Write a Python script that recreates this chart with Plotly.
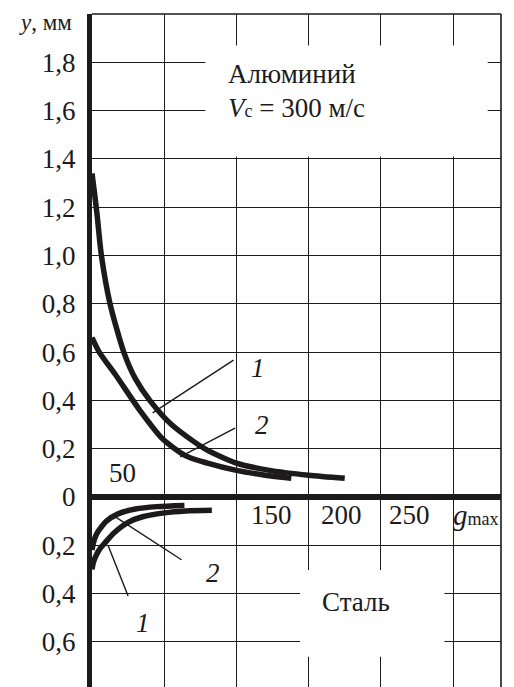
import plotly.graph_objects as go

# ---- data ----
al1_g = [0, 1.5, 3.5, 6.5, 12.5, 22, 30, 40, 55, 78, 100, 125, 150, 175]
al1_y = [1.34, 1.27, 1.17, 1.0, 0.8, 0.6, 0.49, 0.4, 0.3, 0.2, 0.14, 0.108, 0.09, 0.077]
al2_g = [0, 5, 17, 33, 49, 65, 80, 100, 120, 138]
al2_y = [0.66, 0.60, 0.50, 0.36, 0.24, 0.17, 0.14, 0.11, 0.09, 0.077]
st1_g = [0, 1, 3, 6, 9, 15, 25, 35, 50, 65, 83]
st1_y = [-0.30, -0.27, -0.24, -0.21, -0.19, -0.15, -0.105, -0.082, -0.066, -0.058, -0.055]
st2_g = [0, 1, 2, 4, 7, 10, 18, 30, 45, 64]
st2_y = [-0.22, -0.19, -0.17, -0.145, -0.12, -0.10, -0.07, -0.05, -0.04, -0.035]

y_ticks = [-0.6, -0.4, -0.2, 0, 0.2, 0.4, 0.6, 0.8, 1.0, 1.2, 1.4, 1.6, 1.8]
y_ticktext = ["0,6", "0,4", "0,2", "0", "0,2", "0,4", "0,6", "0,8", "1,0", "1,2", "1,4", "1,6", "1,8"]
x_grid = [50, 100, 150, 200, 250]
x_labels = [("50", 21, 0.10), ("150", 124, -0.075), ("200", 173, -0.075), ("250", 220, -0.075)]

# leader lines: (label, label_x, label_y, from_x, from_y, to_x, to_y)
leaders = [
    ("1", 115, 0.535, 98, 0.567, 42, 0.348),
    ("2", 118, 0.298, 99, 0.285, 61, 0.166),
    ("1", 35, -0.52, 25, -0.41, 11, -0.199),
    ("2", 84, -0.314, 62, -0.26, 14, -0.074),
]

FONT = "Liberation Serif"
INK = "#1c1a1b"
FS = 27

fig = go.Figure()
for gx, gy in [(al1_g, al1_y), (al2_g, al2_y), (st1_g, st1_y), (st2_g, st2_y)]:
    fig.add_trace(go.Scatter(x=gx, y=gy, mode="lines",
                             line=dict(color=INK, width=5.5, shape="spline", smoothing=0.7),
                             hoverinfo="skip", showlegend=False))

for lab, lx, ly, x0, y0, x1, y1 in leaders:
    fig.add_trace(go.Scatter(x=[x0, x1], y=[y0, y1], mode="lines",
                             line=dict(color=INK, width=1.4),
                             hoverinfo="skip", showlegend=False))

ann = []
for lab, lx, ly, *_ in leaders:
    ann.append(dict(x=lx, y=ly, text="<i>%s</i>" % lab, showarrow=False,
                    font=dict(family=FONT, size=FS, color=INK)))
for t, x, y in x_labels:
    ann.append(dict(x=x, y=y, text=t, showarrow=False,
                    font=dict(family=FONT, size=FS, color=INK)))
ann.append(dict(x=266, y=-0.075, text="<i>g</i><span style='font-size:18px'>max</span>",
                showarrow=False, xanchor="center",
                font=dict(family=FONT, size=FS + 2, color=INK)))
ann.append(dict(x=0, y=1.965, xref="x", yref="y", xanchor="right", xshift=-18,
                text="<i>y</i>, мм", showarrow=False,
                font=dict(family=FONT, size=23, color=INK)))
ann.append(dict(x=92.5, y=1.75, xanchor="left", text="Алюминий", showarrow=False,
                font=dict(family=FONT, size=FS, color=INK)))
ann.append(dict(x=92.5, y=1.61, xanchor="left",
                text="<i>V</i><span style='font-size:18px'>с</span> = 300 м/с",
                showarrow=False, font=dict(family=FONT, size=FS, color=INK)))
ann.append(dict(x=183, y=-0.435, text="Сталь", showarrow=False,
                font=dict(family=FONT, size=FS, color=INK)))

shapes = [
    dict(type="rect", x0=78.5, x1=274, y0=1.41, y1=1.87, layer="between",
         fillcolor="white", line=dict(width=0)),
    dict(type="rect", x0=144, x1=244, y0=-0.662, y1=-0.302, layer="between",
         fillcolor="white", line=dict(width=0)),
    dict(type="line", xref="paper", yref="paper", x0=0, x1=1, y0=1, y1=1,
         line=dict(color=INK, width=1.6)),
    dict(type="line", xref="paper", yref="paper", x0=1, x1=1, y0=0, y1=1,
         line=dict(color=INK, width=1.6)),
]

# the page adds an 8px body margin, so the figure is sized to compensate
fig.update_layout(
    width=506, height=679,
    margin=dict(l=84, r=13, t=6, b=0),
    paper_bgcolor="white", plot_bgcolor="white",
    annotations=ann, shapes=shapes,
    xaxis=dict(range=[0, 283.2], tickvals=x_grid, showticklabels=False,
               showgrid=True, gridcolor=INK, gridwidth=1.4,
               zeroline=False, showline=False, ticks=""),
    yaxis=dict(range=[-0.787, 2.0], tickvals=y_ticks, ticktext=y_ticktext,
               showgrid=True, gridcolor=INK, gridwidth=1.4,
               zeroline=True, zerolinecolor=INK, zerolinewidth=6,
               showline=True, linecolor=INK, linewidth=5,
               ticks="", ticklabelstandoff=6,
               tickfont=dict(family=FONT, size=FS, color=INK)),
)

fig.write_html("out.html")
